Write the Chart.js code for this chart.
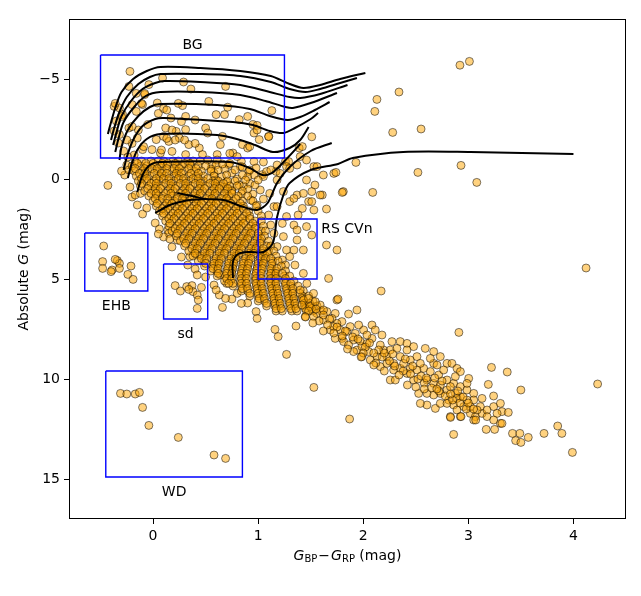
<!DOCTYPE html>
<html>
<head>
<meta charset="utf-8">
<script src="https://cdn.jsdelivr.net/npm/chart.js@4.4.1/dist/chart.umd.min.js"></script>
<style>html,body{margin:0;padding:0;background:#fff}canvas{display:block}</style>
</head>
<body>
<canvas id="chartCanvas" width="641" height="596"></canvas>
<script>
// axis setup
var xTicks = [0, 1, 2, 3, 4];
var yTicks = [-5, 0, 5, 10, 15];

// stars inside / around the BG box  [colour, abs G]
var bgStars = [[-0.22,-5.38],[0.09,-5.05],[0.29,-4.85],[0.36,-4.5],[0.69,-4.63],[-0.04,-4.72],[-0.23,-4.63],[-0.08,-4.22],
  [0.04,-3.8],[0.10,-3.52],[0.28,-3.67],[0.53,-3.88],[0.71,-3.59],[1.13,-3.42],[-0.32,-3.55],[-0.29,-3.22],[-0.20,-3.72],
  [-0.16,-3.38],[-0.10,-3.72],[0.17,-3.05],[0.31,-3.13],[0.60,-3.22],[0.68,-3.22],[0.82,-2.97],[0.90,-3.13],[0.95,-2.72],
  [0.99,-2.68],[0.96,-2.3],[1.10,-2.13],[-0.05,-2.72],[0.12,-2.55],[0.22,-2.38],[0.31,-2.47],[0.50,-2.55],[0.52,-2.3],
  [0.66,-2.13],[-0.23,-2.55],[-0.32,-2.22],[-0.15,-2.05],[0.03,-1.97],[0.10,-2.13],[0.15,-1.88],[0.25,-2.05],[0.34,-1.72],
  [0.44,-1.55],[0.64,-1.72],[0.85,-1.72],[0.90,-1.55],[1.01,-1.97],[0.61,-1.22],[0.76,-1.3],[0.72,-0.72],[-0.10,-1.47],
  [-0.01,-1.47],[0.07,-1.3],[0.18,-1.38],[0.31,-1.22],[0.47,-1.22],[0.56,-0.72],[0.84,-0.88],[0.91,-0.38],[1.04,-0.22],
  [1.17,-0.38],[1.26,-0.88],[1.39,-1.55],[-0.37,-3.63],[-0.16,-4.28],[-0.08,-4.28],[-0.11,-3.78],[0.13,-3.45],[0.24,-3.78],
  [0.05,-3.28],[0.27,-2.87],[0.40,-2.95],[0.18,-2.45],[0.13,-2.03],[0.21,-1.95],[0.30,-1.95],[0.40,-1.78],[0.08,-1.45],
  [-0.09,-1.62],[-0.20,-1.78],[-0.14,-2.45],[-0.30,-3.12],[-0.25,-1.95],[-0.36,-3.78],[-0.2,-2.62],[-0.37,-2.4],[-0.33,-1.8],
  [-0.28,-1.4],[-0.35,-2.9],[0.99,-2.45],[1.10,-2.12],[0.92,-1.62],[0.73,-1.28],[0.80,-1.12],[0.96,-0.87],[0.61,-0.95]];

// dense upper main sequence, one row per magnitude level: [abs G, [colours]]
var coreRows = [
  [-0.9, [-0.17,-0.11,-0.02,0.05,0.1,0.19,0.24,0.33,0.38,0.45]],
  [-0.65, [-0.2,-0.12,-0.06,0.02,0.08,0.13,0.22,0.27,0.36,0.43,0.5]],
  [-0.4, [-0.18,-0.1,-0.05,0.04,0.09,0.18,0.23,0.3,0.39,0.46,0.55]],
  [-0.15, [-0.16,-0.08,-0.03,0.06,0.11,0.2,0.25,0.34,0.41,0.48,0.58]],
  [0.1, [-0.14,-0.06,0.01,0.06,0.15,0.2,0.29,0.34,0.43,0.48,0.57,0.62,0.71,0.78]],
  [0.35, [-0.12,-0.04,0.03,0.08,0.17,0.22,0.31,0.36,0.45,0.5,0.59,0.64,0.73,0.8]],
  [0.6, [-0.08,0.0,0.05,0.14,0.19,0.28,0.33,0.42,0.47,0.56,0.61,0.7,0.75,0.85]],
  [0.85, [-0.04,0.04,0.09,0.18,0.23,0.3,0.39,0.44,0.53,0.58,0.67,0.72,0.81,0.9]],
  [1.1, [0.0,0.06,0.15,0.2,0.29,0.34,0.43,0.48,0.57,0.62,0.71,0.76,0.85,0.95]],
  [1.35, [0.03,0.11,0.16,0.25,0.3,0.39,0.44,0.53,0.58,0.67,0.72,0.81,0.86,0.98]],
  [1.6, [0.06,0.12,0.21,0.26,0.35,0.4,0.49,0.54,0.63,0.68,0.77,0.82,0.91,1.0]],
  [1.85, [0.09,0.17,0.22,0.31,0.36,0.45,0.5,0.59,0.64,0.73,0.78,0.87,0.92,1.03]],
  [2.1, [0.12,0.18,0.27,0.32,0.41,0.46,0.55,0.6,0.69,0.74,0.83,0.88,0.97,1.03]],
  [2.35, [0.15,0.23,0.28,0.37,0.42,0.51,0.56,0.65,0.7,0.79,0.84,0.93,0.98,1.05]],
  [2.6, [0.18,0.24,0.33,0.38,0.47,0.52,0.61,0.66,0.75,0.8,0.89,0.94,1.03,1.07]],
  [2.85, [0.22,0.3,0.35,0.44,0.49,0.58,0.63,0.72,0.77,0.86,0.91,1.0,1.06]],
  [3.1, [0.26,0.32,0.41,0.46,0.55,0.6,0.69,0.74,0.83,0.88,0.97,1.02,1.1]],
  [3.35, [0.3,0.38,0.43,0.52,0.57,0.66,0.71,0.8,0.85,0.94,0.99,1.08,1.12]],
  [3.6, [0.34,0.4,0.49,0.54,0.63,0.68,0.77,0.82,0.91,0.96,1.05,1.1,1.15]],
  [3.85, [0.38,0.46,0.51,0.6,0.65,0.74,0.79,0.88,0.93,1.02,1.07,1.17]],
  [4.1, [0.43,0.49,0.58,0.63,0.72,0.77,0.86,0.91,1.0,1.05,1.14,1.19]],
  [4.35, [0.49,0.57,0.62,0.71,0.76,0.85,0.9,0.99,1.04,1.13,1.22]],
  [4.6, [0.55,0.61,0.7,0.75,0.84,0.89,0.98,1.03,1.12,1.17,1.26]],
  [4.85, [0.61,0.69,0.74,0.83,0.88,0.97,1.02,1.11,1.16,1.25,1.3]],
  [5.1, [0.68,0.74,0.83,0.88,0.97,1.02,1.11,1.16,1.25,1.34]],
  [5.35, [0.76,0.84,0.89,0.98,1.03,1.12,1.17,1.26,1.31,1.38]],
  [5.6, [0.84,0.9,0.99,1.04,1.13,1.18,1.27,1.32,1.43]],
  [5.85, [0.92,1.0,1.05,1.14,1.19,1.28,1.33,1.42,1.48]],
  [6.1, [1.0,1.06,1.15,1.2,1.29,1.34,1.43,1.52]],
  [6.35, [1.08,1.16,1.21,1.3,1.35,1.44,1.5,1.56]],
  [6.6, [1.17,1.23,1.32,1.37,1.46,1.52,1.6]]
];

// the same core, the stars lying between those rows
var coreRowsB = [
  [-0.78, [-0.15,-0.07,0.0,0.09,0.14,0.21,0.3,0.35]],
  [-0.52, [-0.17,-0.08,-0.01,0.04,0.13,0.2,0.25,0.34,0.41]],
  [-0.28, [-0.13,-0.08,0.01,0.08,0.13,0.22,0.27,0.36,0.43]],
  [-0.02, [-0.11,-0.06,0.03,0.1,0.15,0.24,0.29,0.38,0.43,0.52]],
  [0.22, [-0.11,-0.02,0.03,0.12,0.17,0.26,0.31,0.4,0.45,0.54,0.59,0.67]],
  [0.48, [-0.05,0.02,0.07,0.16,0.21,0.3,0.35,0.44,0.49,0.58,0.63,0.71]],
  [0.72, [-0.02,0.03,0.12,0.17,0.26,0.31,0.4,0.45,0.54,0.59,0.68,0.75]],
  [0.98, [0.02,0.09,0.14,0.23,0.28,0.37,0.42,0.51,0.56,0.65,0.7,0.79]],
  [1.22, [0.04,0.13,0.18,0.27,0.32,0.41,0.46,0.55,0.6,0.69,0.74,0.83]],
  [1.48, [0.09,0.14,0.23,0.28,0.37,0.42,0.51,0.56,0.65,0.7,0.79,0.86]],
  [1.72, [0.1,0.19,0.24,0.33,0.38,0.47,0.52,0.61,0.66,0.75,0.8,0.89]],
  [1.98, [0.15,0.2,0.29,0.34,0.43,0.48,0.57,0.62,0.71,0.76,0.85,0.92]],
  [2.22, [0.16,0.25,0.3,0.39,0.44,0.53,0.58,0.67,0.72,0.81,0.86,0.95]],
  [2.48, [0.21,0.26,0.35,0.4,0.49,0.54,0.63,0.68,0.77,0.82,0.91,0.97]],
  [2.72, [0.23,0.32,0.37,0.46,0.51,0.6,0.65,0.74,0.79,0.88,0.93,1.0]],
  [2.98, [0.29,0.34,0.43,0.48,0.57,0.62,0.71,0.76,0.85,0.9,0.99,1.03]],
  [3.22, [0.31,0.4,0.45,0.54,0.59,0.68,0.73,0.82,0.87,0.96,1.02]],
  [3.48, [0.37,0.42,0.51,0.56,0.65,0.7,0.79,0.84,0.93,0.98,1.05]],
  [3.72, [0.4,0.49,0.54,0.63,0.68,0.77,0.82,0.91,0.96,1.04,1.09]],
  [3.98, [0.46,0.51,0.6,0.65,0.74,0.79,0.88,0.93,1.02,1.07,1.12]],
  [4.22, [0.5,0.58,0.63,0.72,0.77,0.86,0.91,1.0,1.05,1.13]],
  [4.48, [0.57,0.62,0.71,0.76,0.85,0.9,0.99,1.04,1.12,1.18]],
  [4.72, [0.62,0.7,0.75,0.84,0.89,0.98,1.03,1.12,1.17,1.23]],
  [4.98, [0.7,0.75,0.84,0.89,0.98,1.03,1.12,1.17,1.26]],
  [5.22, [0.76,0.84,0.89,0.98,1.03,1.12,1.17,1.26,1.31]],
  [5.48, [0.85,0.9,0.99,1.04,1.13,1.18,1.27,1.33]],
  [5.72, [0.92,1.0,1.05,1.14,1.19,1.28,1.33,1.4]],
  [5.98, [1.01,1.06,1.15,1.2,1.29,1.34,1.42]],
  [6.22, [1.08,1.16,1.21,1.3,1.35,1.44,1.49]],
  [6.48, [1.17,1.22,1.31,1.36,1.45,1.51]]
];

// turn-off, subgiants, red clump and RS CVn region
var giantStars = [[1.51,-2.11],[1.42,-1.62],[1.40,-1.12],[1.46,-0.95],[1.29,-0.87],[1.27,-0.62],[1.37,-0.7],[1.46,0.05],
  [1.53,-0.62],[1.62,-0.2],[1.54,0.3],[1.61,0.8],[1.51,0.63],[1.48,1.13],[1.65,1.5],[1.37,0.8],[1.24,0.63],[1.42,1.47],
  [1.30,1.13],[1.15,1.38],[1.08,-0.37],[0.96,-0.2],[1.21,-0.28],[1.18,-0.7],[1.30,-0.53],[1.56,-0.62],[1.72,-0.28],
  [1.18,0.05],[1.05,-0.12],[0.92,0.22],[1.02,0.55],[1.11,0.72],[0.92,-0.45],[0.83,-0.62],[0.73,-0.78],[1.81,0.63],
  [1.53,1.55],[1.51,1.13],[1.59,0.8],[1.43,0.72],[1.34,0.97],[1.27,1.88],[1.38,1.8],[1.18,1.38],[1.23,2.22],[1.34,2.3],
  [1.15,2.72],[1.24,2.88],[1.18,3.38],[1.27,3.55],[1.23,4.05],[1.35,4.3],[1.15,4.72],[1.37,2.55],[1.46,2.38],[1.51,2.8],
  [1.37,3.05],[1.34,3.55],[1.43,3.55],[1.30,3.88],[1.26,4.3],[1.43,4.72],[1.65,3.3],[1.75,3.55],[1.67,4.97],[0.52,-0.95],
  [0.6,-0.7],[0.68,-0.5],[0.75,-0.3],[0.58,-0.3],[0.65,-0.1],[0.85,-0.6],[0.98,-0.55],[1.05,-0.85],[1.12,-0.45],[0.9,-0.1],
  [0.8,0.0],[0.7,0.15],[0.86,0.35],[0.95,0.75],[1.05,1.0],[1.1,1.8],[1.12,2.3],[0.62,-0.45],[0.7,-0.2],[0.78,-0.45],
  [0.85,-0.2],[0.82,0.3],[0.9,0.5],[0.75,0.55],[0.68,0.4],[0.6,0.05],[0.55,-0.5],[0.66,-0.75],[0.88,0.05],[0.97,0.3],
  [1.0,0.05],[0.93,1.05],[0.99,1.3],[0.84,0.75]];

// loose stars on the blue / lower edge of the main sequence
var haloStars = [[-0.25,-0.7],[-0.27,-0.2],[-0.22,0.4],[-0.2,0.9],[-0.15,1.3],[-0.1,1.75],[-0.06,1.45],[-0.18,-1.2],
  [-0.24,-1.1],[-0.3,-0.4],[-0.17,0.8],[-0.23,-0.45],[-0.12,0.72],[0.02,2.2],[0.06,2.5],[0.14,2.55],[0.15,2.72],
  [0.1,2.9],[0.18,3.4],[0.27,3.9],[0.33,4.3],[0.4,4.5],[0.5,4.9],[0.58,5.3],[0.64,4.8],[0.70,5.22],[0.80,5.72],
  [0.75,6.0],[0.9,6.2],[0.61,4.22],[0.16,3.0],[0.05,2.75],[0.35,3.88],[0.42,3.8],[0.23,3.05]];

// lower main sequence
var lowerMS = [[1.463,5.22],[1.527,5.72],[1.59,6.30],[1.448,6.88],[1.559,6.72],[1.654,6.63],[1.733,6.72],[1.797,7.13],
  [1.876,7.38],[1.924,7.72],[2.003,7.55],[2.083,7.30],[2.114,7.55],[2.178,7.80],[1.94,8.55],[2.035,8.22],[2.13,8.88],
  [2.194,8.55],[2.273,8.13],[2.352,8.13],[2.416,8.22],[2.479,8.38],[2.448,9.05],[2.511,8.88],[2.59,8.47],[2.67,8.63],
  [2.733,8.88],[2.797,9.22],[2.844,9.22],[2.892,9.47],[2.924,9.63],[3.003,9.97],[2.575,9.47],[2.638,9.63],[2.717,9.80],
  [2.797,10.05],[2.86,10.22],[2.924,10.38],[2.987,10.55],[3.051,10.72],[3.13,10.97],[2.416,9.72],[2.479,10.05],
  [2.527,10.72],[2.606,11.30],[2.686,11.47],[2.733,11.22],[2.813,11.05],[2.86,11.30],[2.892,11.55],[2.956,11.38],
  [3.019,11.72],[3.067,11.88],[3.13,11.72],[3.178,11.55],[3.241,11.38],[3.305,11.22],[3.32,11.63],[2.257,10.05],
  [2.305,10.05],[2.162,9.38],[2.289,9.55],[2.543,11.22],[2.829,11.88],[2.924,11.88],[3.051,12.05],[3.273,11.72],
  [3.305,12.22],[1.797,7.97],[1.749,6.05],[1.432,6.05],[1.416,6.30],[1.495,6.38],[1.686,7.55],[1.733,7.97],[1.813,8.13],
  [1.908,8.63],[2.083,7.97],[2.162,8.30],[2.225,9.22],[2.352,8.88],[2.416,8.55],[2.543,9.22],[2.352,9.47],[2.67,9.22],
  [2.765,9.55],[2.876,9.88],[2.987,10.22],[2.797,10.55],[2.733,10.72],[2.67,10.80],[2.606,10.72],[2.924,10.88],
  [3.051,11.05],[2.987,11.05],[3.114,11.38],[3.178,11.88],[3.241,12.05],[1.40,5.55],[1.479,5.97],[1.543,6.13],
  [1.622,6.55],[1.702,6.97],[1.749,7.22],[1.844,7.63],[1.908,8.05],[1.987,8.38],[2.051,8.63],[2.067,9.05],[1.987,8.88],
  [2.146,8.55],[2.225,8.88],[2.289,9.22],[2.384,9.22],[2.448,9.47],[2.511,9.55],[1.717,7.38],[1.622,7.05],[1.527,6.88],
  [1.781,7.55],[1.956,7.30],[2.035,7.80],[2.257,8.55],[2.32,8.47],[2.638,8.97],[2.702,9.30],[2.606,10.05],[2.67,10.22],
  [2.733,10.30],[2.829,10.38],[2.876,10.72],[2.797,11.22],[2.892,10.97],[3.019,11.38],[3.083,11.55],
  [1.55,6.5],[1.62,6.8],[1.68,7.0],[1.75,7.4],[1.83,7.6],[1.9,7.9],[1.97,8.1],[2.02,8.4],[2.1,8.7],[2.18,8.9],[2.25,9.1],
  [2.3,9.35],[2.38,9.6],[2.45,9.75],[2.52,10.0],[2.58,10.2],[2.65,10.45],[2.72,10.6],[2.78,10.85],[2.85,11.05],[2.92,11.2],
  [2.98,11.5],[1.48,6.6],[1.58,7.1],[1.66,7.3],[1.72,7.7],[1.8,7.85],[1.86,8.3],[1.95,8.0],[2.0,8.7],[2.06,8.2],[2.12,9.2],
  [2.2,8.7],[2.28,8.75],[2.34,9.8],[2.4,9.0],[2.47,9.35],[2.55,9.85],[2.6,9.95],[2.68,9.95],[2.7,10.5],[2.75,10.1],
  [2.83,10.75],[2.9,10.6],[2.95,10.9],[3.0,11.2],[3.05,11.5],[2.58,10.5],[2.5,10.4],[2.42,10.3],[2.2,9.6],[2.1,9.3],
  [1.98,8.9],[1.85,8.5],[1.62,7.6],[1.52,7.2],[1.45,6.9]];

var ehbStars = [[-0.47,3.35],[-0.48,4.13],[-0.48,4.47],[-0.39,4.55],[-0.34,4.08],[-0.32,4.22],[-0.40,4.63],
  [-0.32,4.47],[-0.21,4.35],[-0.24,4.77],[-0.19,5.02],[-0.36,4.02]];
var sdStars = [[0.42,4.8],[0.21,5.33],[0.26,5.6],[0.32,5.38],[0.37,5.33],[0.46,5.42],[0.38,5.63],[0.42,5.8],
  [0.43,6.05],[0.42,6.47],[0.34,5.52]];
var wdStars = [[-0.31,10.72],[-0.25,10.75],[-0.17,10.75],[-0.13,10.67],[-0.10,11.42],[-0.04,12.32],[0.24,12.92],
  [0.58,13.8],[0.69,13.97]];
var outliers = [[2.92,-5.69],[3.01,-5.88],[2.34,-4.35],[2.13,-3.98],[2.11,-3.38],[2.28,-2.33],[2.55,-2.5],[2.93,-0.68],
  [3.08,0.17],[2.52,-0.33],[1.93,-0.83],[1.74,-0.33],[1.80,0.67],[2.09,0.67],[-0.43,0.32],[4.12,4.45],[2.17,5.6],
  [1.76,6.0],[1.94,6.55],[1.86,6.75],[2.91,7.67],[1.53,10.42],[1.87,12.0],[3.22,9.42],[3.37,9.65],[3.19,10.27],
  [3.50,10.55],[3.24,10.85],[4.23,10.25],[2.86,12.77],[3.42,12.72],[3.49,12.72],[3.57,12.92],[3.45,13.08],[3.50,13.17],
  [3.72,12.72],[3.85,12.35],[3.89,12.72],[3.99,13.67],[3.38,11.67],[3.32,12.22],[3.25,12.52],[3.17,12.52],[2.83,11.92],
  [2.93,11.88],[3.07,12.05],[1.16,7.52],[1.19,7.88],[1.27,8.77],[1.36,7.35],[0.63,5.8],[0.69,5.97],[0.66,6.42],
  [0.84,6.22],[0.98,6.63],[0.99,6.97],[0.72,5.22],[0.60,5.55]];

// isochrone tracks, each a list of [colour, abs G]
var isochrones = [
  [[-0.43,-2.25],[-0.41,-2.65],[-0.36,-3.55],[-0.30,-4.35],[-0.19,-5.0],[-0.06,-5.4],[0.07,-5.6],[0.45,-5.55],[0.83,-5.4],[1.12,-5.15],[1.30,-4.75],[1.43,-4.55],[1.59,-4.7],[1.78,-5.0],[2.02,-5.3]],
  [[-0.40,-1.95],[-0.37,-2.55],[-0.32,-3.35],[-0.25,-4.1],[-0.14,-4.75],[-0.03,-5.1],[0.07,-5.25],[0.45,-5.25],[0.83,-5.15],[1.12,-4.85],[1.30,-4.5],[1.45,-4.35],[1.59,-4.5],[1.78,-4.8],[1.94,-5.05]],
  [[-0.38,-1.7],[-0.35,-2.3],[-0.30,-3.15],[-0.21,-3.9],[-0.10,-4.5],[0.02,-4.8],[0.11,-4.9],[0.45,-4.85],[0.83,-4.7],[1.11,-4.35],[1.30,-4.1],[1.40,-4.05],[1.59,-4.25],[1.85,-4.7]],
  [[-0.36,-1.35],[-0.33,-2.0],[-0.28,-2.85],[-0.18,-3.6],[-0.07,-4.15],[0.07,-4.35],[0.45,-4.35],[0.83,-4.2],[1.07,-3.9],[1.26,-3.6],[1.33,-3.55],[1.50,-3.8],[1.75,-4.3]],
  [[-0.32,-0.95],[-0.30,-1.6],[-0.24,-2.45],[-0.14,-3.15],[-0.03,-3.6],[0.07,-3.75],[0.61,-3.7],[0.92,-3.5],[1.11,-3.15],[1.28,-2.95],[1.40,-3.1],[1.54,-3.45],[1.68,-3.85]],
  [[-0.28,-0.45],[-0.25,-1.1],[-0.19,-1.95],[-0.10,-2.65],[0.02,-3.0],[0.11,-3.05],[0.76,-2.85],[0.95,-2.7],[1.11,-2.4],[1.24,-2.3],[1.35,-2.55],[1.50,-3.0],[1.57,-3.3]],
  [[-0.24,-0.05],[-0.21,-0.65],[-0.15,-1.45],[-0.06,-2.0],[0.07,-2.25],[0.61,-2.2],[0.83,-1.95],[0.97,-1.7],[1.14,-1.35],[1.30,-1.55],[1.40,-1.95],[1.48,-2.6]],
  [[-0.15,0.65],[-0.10,-0.2],[-0.03,-0.7],[0.07,-0.85],[0.73,-0.85],[0.92,-0.55],[1.04,-0.2],[1.13,-0.3],[1.26,-0.95],[1.40,-1.75]],
  [[0.23,0.7],[0.37,0.85],[0.50,1.0],[0.67,1.05],[0.86,1.4],[0.99,1.55],[1.09,1.2],[1.18,0.2],[1.30,-0.6],[1.50,-1.4],[1.70,-1.8]],
  [[0.02,1.7],[0.16,1.3],[0.35,1.05],[0.50,1.0]],
  [[0.76,4.95],[0.76,4.15],[0.81,3.75],[0.92,3.65],[1.05,3.65],[1.14,3.2],[1.18,1.9],[1.24,0.8],[1.30,0.2],[1.50,-0.45],[1.76,-0.75],[1.90,-1.05],[2.38,-1.35],[3.02,-1.35],[4.0,-1.25]]
];

// selection boxes [xmin, xmax, ymin, ymax] and their labels
var boxBG = [-0.5, 1.25, -6.2, -1.05];
var boxEHB = [-0.65, -0.05, 2.7, 5.6];
var boxSd = [0.1, 0.52, 4.25, 7.0];
var boxRS = [1.0, 1.56, 2.0, 5.0];
var boxWD = [-0.45, 0.85, 9.6, 14.9];
var boxLabels = [
  {text: "BG", x: 0.375, y: -6.7, align: "center"},
  {text: "EHB", x: -0.35, y: 6.35, align: "center"},
  {text: "sd", x: 0.31, y: 7.75, align: "center"},
  {text: "RS CVn", x: 1.6, y: 2.5, align: "left"},
  {text: "WD", x: 0.2, y: 15.65, align: "center"}
];

function toXY(list) {
  return list.map(function (p) { return {x: p[0], y: p[1]}; });
}

function rect(b) {
  return [{x: b[0], y: b[2]}, {x: b[1], y: b[2]}, {x: b[1], y: b[3]}, {x: b[0], y: b[3]}, {x: b[0], y: b[2]}];
}

function minusFmt(v) {
  return v < 0 ? "\u2212" + Math.abs(v) : String(v);
}

var stars = [];
stars = stars.concat(bgStars, giantStars, haloStars);
coreRows.concat(coreRowsB).forEach(function (row) {
  row[1].forEach(function (x) { stars.push([x, row[0]]); });
});
stars = stars.concat(lowerMS, ehbStars, sdStars, wdStars, outliers);

var datasets = [{
  data: toXY(stars),
  backgroundColor: "rgba(255,165,0,0.5)",
  borderColor: "rgba(0,0,0,0.5)",
  borderWidth: 1,
  pointRadius: 4,
  order: 3
}];
isochrones.forEach(function (track) {
  datasets.push({
    data: toXY(track), showLine: true, borderColor: "#000", borderWidth: 2,
    pointRadius: 0, tension: 0.3, fill: false, order: 2
  });
});
[boxBG, boxEHB, boxSd, boxRS, boxWD].forEach(function (b) {
  datasets.push({
    data: rect(b), showLine: true, borderColor: "#0000ff", borderWidth: 1.4,
    pointRadius: 0, tension: 0, fill: false, order: 1
  });
});

var FONT = "'DejaVu Sans', sans-serif";

// draws a sequence of text pieces centred on (cx, cy)
function drawRuns(ctx, runs, cx, cy) {
  var total = 0;
  runs.forEach(function (r) {
    ctx.font = (r.it ? "italic " : "") + (r.size || 14) + "px " + FONT;
    r.w = ctx.measureText(r.t).width + (r.gap || 0) * 2;
    total += r.w;
  });
  var x = cx - total / 2;
  ctx.textAlign = "left";
  ctx.textBaseline = "middle";
  runs.forEach(function (r) {
    ctx.font = (r.it ? "italic " : "") + (r.size || 14) + "px " + FONT;
    ctx.fillText(r.t, x + (r.gap || 0), cy + (r.dy || 0));
    x += r.w;
  });
}

var decorPlugin = {
  id: "decor",
  afterDraw: function (chart) {
    var ctx = chart.ctx, a = chart.chartArea;
    var xs = chart.scales.x, ys = chart.scales.y;
    ctx.save();
    ctx.strokeStyle = "#000";
    ctx.lineWidth = 1;
    ctx.strokeRect(a.left + 0.5, a.top + 0.5, a.right - a.left - 1, a.bottom - a.top - 1);

    ctx.fillStyle = "#000";
    ctx.font = "14px " + FONT;
    ctx.textBaseline = "middle";
    boxLabels.forEach(function (l) {
      ctx.textAlign = l.align;
      ctx.fillText(l.text, xs.getPixelForValue(l.x), ys.getPixelForValue(l.y));
    });

    // x axis title
    drawRuns(ctx, [
      {t: "G", it: true},
      {t: "BP", size: 10, dy: 3.5},
      {t: "\u2212", gap: 1},
      {t: "G", it: true},
      {t: "RP", size: 10, dy: 3.5},
      {t: " (mag)"}
    ], (a.left + a.right) / 2, 556);

    // y axis title
    ctx.translate(24, (a.top + a.bottom) / 2);
    ctx.rotate(-Math.PI / 2);
    drawRuns(ctx, [{t: "Absolute "}, {t: "G", it: true}, {t: " (mag)"}], 0, 0);
    ctx.restore();
  }
};

var tickGrid = {drawOnChartArea: false, drawTicks: true, tickLength: 5, color: "#000", lineWidth: 1};

new Chart(document.getElementById("chartCanvas"), {
  type: "scatter",
  data: {datasets: datasets},
  options: {
    responsive: false,
    animation: false,
    devicePixelRatio: 1,
    layout: {padding: {left: 0, top: 19, right: 15, bottom: 0}},
    plugins: {legend: {display: false}, tooltip: {enabled: false}},
    scales: {
      x: {
        type: "linear", min: -0.8, max: 4.5,
        afterBuildTicks: function (s) { s.ticks = xTicks.map(function (v) { return {value: v}; }); },
        afterFit: function (s) { s.height = 77; },
        grid: tickGrid,
        border: {display: false},
        ticks: {padding: 4, color: "#000", font: {family: FONT, size: 14}, maxRotation: 0, autoSkip: false, callback: minusFmt}
      },
      y: {
        type: "linear", min: -8, max: 17, reverse: true,
        afterBuildTicks: function (s) { s.ticks = yTicks.map(function (v) { return {value: v}; }); },
        afterFit: function (s) { s.width = 69; },
        grid: tickGrid,
        border: {display: false},
        ticks: {padding: 4, color: "#000", font: {family: FONT, size: 14}, autoSkip: false, callback: minusFmt}
      }
    }
  },
  plugins: [decorPlugin]
});
</script>
</body>
</html>
